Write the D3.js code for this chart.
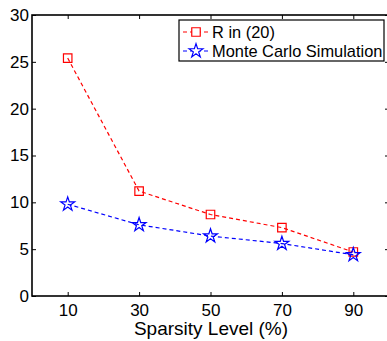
<!DOCTYPE html>
<html>
<head>
<meta charset="utf-8">
<script src="https://cdn.jsdelivr.net/npm/d3@7"></script>
<style>
  body { margin: 0; background: #fff; }
  svg { font-family: "Liberation Sans", Arial, Helvetica, sans-serif; }
</style>
</head>
<body>
<svg id="chart" width="387" height="341"></svg>
<script>
// data
var sparsity = [10, 30, 50, 70, 90];
var rIn20 = [25.4, 11.2, 8.7, 7.3, 4.7];
var monteCarlo = [9.8, 7.6, 6.4, 5.6, 4.4];
var xTicks = [10, 30, 50, 70, 90];
var yTicks = [0, 5, 10, 15, 20, 25, 30];
var seriesNames = ["R in (20)", "Monte Carlo Simulation"];

var svg = d3.select("#chart");
var mLeft = 32, mRight = 389, mTop = 15, mBottom = 296;

var x = d3.scaleLinear().domain([0, 100]).range([mLeft, mRight]);
var y = d3.scaleLinear().domain([0, 30]).range([mBottom, mTop]);

// box + inner ticks (matlab style)
var tickLen = 4;
svg.append("g")
    .attr("transform", "translate(0," + mBottom + ")")
    .call(d3.axisBottom(x).tickValues(xTicks).tickSize(-tickLen).tickPadding(8))
    .call(function(g) {
        g.select(".domain").remove();
        g.selectAll("text").attr("font-size", 17).attr("fill", "#000");
    });
svg.append("g")
    .attr("transform", "translate(0," + mTop + ")")
    .call(d3.axisTop(x).tickValues(xTicks).tickSize(-tickLen).tickFormat(""))
    .call(function(g) { g.select(".domain").remove(); });
svg.append("g")
    .attr("transform", "translate(" + mLeft + ",0)")
    .call(d3.axisLeft(y).tickValues(yTicks).tickSize(-tickLen).tickPadding(3))
    .call(function(g) {
        g.select(".domain").remove();
        g.selectAll("text").attr("font-size", 17).attr("fill", "#000");
    });
svg.append("g")
    .attr("transform", "translate(" + mRight + ",0)")
    .call(d3.axisRight(y).tickValues(yTicks).tickSize(-tickLen).tickFormat(""))
    .call(function(g) { g.select(".domain").remove(); });

svg.selectAll(".tick line").attr("stroke", "#000").attr("stroke-width", 1);

svg.append("rect")
    .attr("x", mLeft).attr("y", mTop)
    .attr("width", mRight - mLeft).attr("height", mBottom - mTop)
    .attr("fill", "none").attr("stroke", "#000").attr("stroke-width", 1.6);

svg.append("text")
    .attr("x", 211).attr("y", 335)
    .attr("text-anchor", "middle")
    .attr("font-size", 19)
    .text("Sparsity Level (%)");

var line = d3.line()
    .x(function(d) { return x(d[0]); })
    .y(function(d) { return y(d[1]); });

var sq = d3.symbol().type(d3.symbolSquare).size(72);
var star = d3.symbol().type(d3.symbolStar).size(60);

function drawSeries(vals, color, sym) {
    var pts = sparsity.map(function(s, i) { return [s, vals[i]]; });
    svg.append("path")
        .attr("d", line(pts))
        .attr("fill", "none")
        .attr("stroke", color)
        .attr("stroke-width", 1.2)
        .attr("stroke-dasharray", "4,3");
    svg.selectAll(null).data(pts).enter()
        .append("path")
        .attr("d", sym)
        .attr("transform", function(d) { return "translate(" + x(d[0]) + "," + y(d[1]) + ")"; })
        .attr("fill", "none")
        .attr("stroke", color)
        .attr("stroke-width", 1.2);
}

drawSeries(rIn20, "#ff0000", sq);
drawSeries(monteCarlo, "#0000ff", star);

// legend
var lg = svg.append("g");
lg.append("rect")
    .attr("x", 179).attr("y", 20).attr("width", 205).attr("height", 41)
    .attr("fill", "#fff").attr("stroke", "#000").attr("stroke-width", 1.2);
var colors = ["#ff0000", "#0000ff"];
var syms = [sq, star];
seriesNames.forEach(function(name, i) {
    var yy = 32 + i * 19;
    lg.append("line")
        .attr("x1", 183).attr("x2", 209).attr("y1", yy).attr("y2", yy)
        .attr("stroke", colors[i]).attr("stroke-width", 1.2)
        .attr("stroke-dasharray", "4,3");
    lg.append("path")
        .attr("d", syms[i])
        .attr("transform", "translate(196," + yy + ")")
        .attr("fill", "#fff")
        .attr("stroke", colors[i]).attr("stroke-width", 1.2);
    lg.append("text")
        .attr("x", 212).attr("y", yy + 6)
        .attr("font-size", 16.4)
        .text(name);
});
</script>
</body>
</html>
